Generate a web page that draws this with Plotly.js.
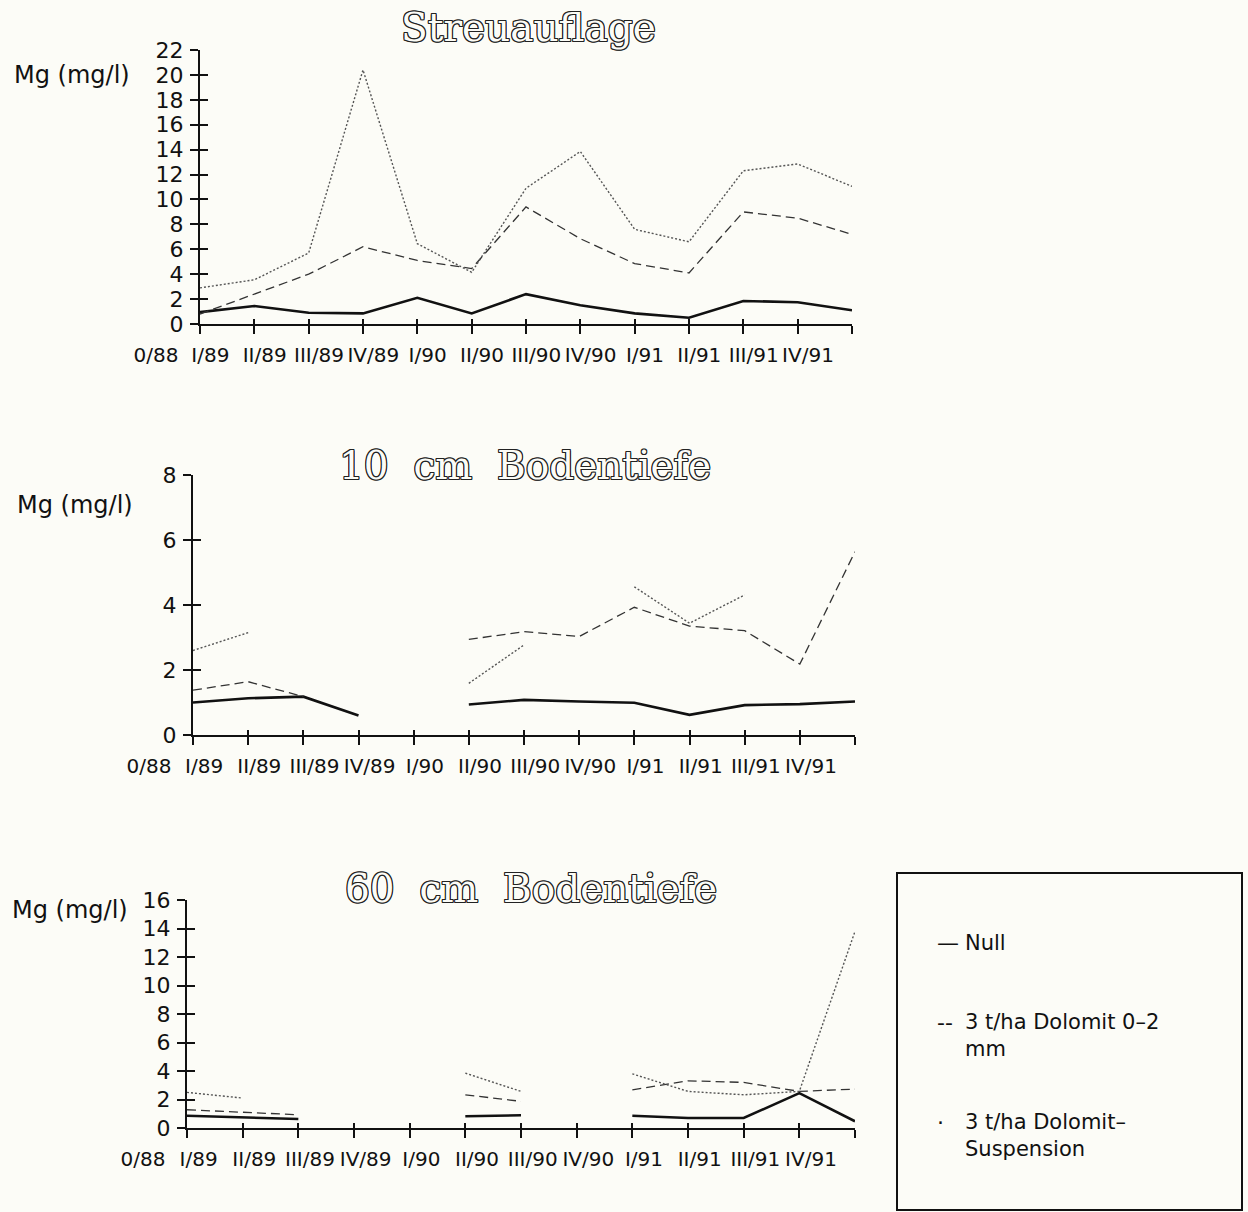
<!DOCTYPE html>
<html>
<head>
<meta charset="utf-8">
<script src="https://cdn.plot.ly/plotly-3.0.1.min.js"></script>
<style>html,body{margin:0;padding:0;background:#fcfcf7;}#chart{width:1248px;height:1212px;}</style>
</head>
<body>
<div id="chart"></div>
<script>
// Quarter categories (x) and tick labels
const periods = ['0/88','I/89','II/89','III/89','IV/89','I/90','II/90','III/90','IV/90','I/91','II/91','III/91','IV/91'];
const tickLabels = ['0/88','I/89','II/89','III/89','IV/89','I/90','II/90','III/90','IV/90','I/91','II/91','III/91','IV/91'];

// Panel 1: Streuauflage, Mg (mg/l)
const streuNull = [0.95, 1.45, 0.9, 0.85, 2.1, 0.85, 2.4, 1.5, 0.85, 0.5, 1.85, 1.75, 1.1];
const streuDol  = [0.8, 2.4, 4.0, 6.2, 5.1, 4.45, 9.4, 6.85, 4.85, 4.1, 9.0, 8.5, 7.2];
const streuSusp = [2.9, 3.55, 5.7, 20.4, 6.45, 4.15, 10.9, 13.85, 7.6, 6.6, 12.3, 12.85, 11.05];

// Panel 2: 10 cm Bodentiefe
const b10Null = [1.0, 1.13, 1.18, 0.6, null, 0.94, 1.08, 1.03, 0.99, 0.62, 0.92, 0.95, 1.03];
const b10Dol  = [1.38, 1.64, 1.18, null, null, 2.94, 3.18, 3.03, 3.93, 3.35, 3.21, 2.18, 5.64];
const b10Susp = [2.6, 3.15, null, null, null, 1.59, 2.77, null, 4.56, 3.44, 4.31, null, null];

// Panel 3: 60 cm Bodentiefe
const b60Null = [0.86, 0.75, 0.63, null, null, 0.82, 0.89, null, 0.86, 0.7, 0.7, 2.45, 0.47];
const b60Dol  = [1.28, 1.1, 0.93, null, null, 2.33, 1.87, null, 2.68, 3.31, 3.2, 2.57, 2.73];
const b60Susp = [2.5, 2.1, null, null, null, 3.85, 2.57, null, 3.8, 2.57, 2.33, 2.57, 13.8];

const seriesNames = ['Null', '3 t/ha Dolomit 0–2 mm', '3 t/ha Dolomit–Suspension'];
const panelTitles = ['Streuauflage', '10\u00a0\u00a0cm\u00a0\u00a0Bodentiefe', '60\u00a0\u00a0cm\u00a0\u00a0Bodentiefe'];
const yMax = [22, 8, 16];

const W = 1248, H = 1212;
const idx = periods.map((p, i) => i);
const styles = [
  {color: '#111', width: 2.6, dash: 'solid'},
  {color: '#333', width: 1.3, dash: '9px,5px'},
  {color: '#555', width: 1.4, dash: '2px,2px'}
];
const panels = [
  [streuNull, streuDol, streuSusp],
  [b10Null, b10Dol, b10Susp],
  [b60Null, b60Dol, b60Susp]
];
// pixel geometry of the panels
const geo = [
  {x0: 200, x1: 852, yTop: 50,  yBot: 324},
  {x0: 193, x1: 855, yTop: 475, yBot: 735},
  {x0: 187, x1: 855, yTop: 900, yBot: 1128}
];

const traces = [];
panels.forEach((ser, p) => {
  const ax = p === 0 ? '' : String(p + 1);
  const ov = String(p + 4);
  ser.forEach((vals, s) => {
    traces.push({
      x: idx, y: vals, type: 'scatter', mode: 'lines', name: seriesNames[s],
      xaxis: 'x' + ax, yaxis: 'y' + ax, connectgaps: false, showlegend: false,
      line: {color: styles[s].color, width: styles[s].width, dash: styles[s].dash},
      hoverinfo: 'skip'
    });
  });
  // invisible copy so the overlay (crossing-tick) axes are drawn
  traces.push({
    x: idx, y: ser[0], type: 'scatter', mode: 'lines', xaxis: 'x' + ov, yaxis: 'y' + ov,
    opacity: 0, line: {width: 0}, showlegend: false, hoverinfo: 'skip'
  });
});

const sans = 'DejaVu Sans, sans-serif';
const layout = {
  width: W, height: H, margin: {l: 0, r: 0, t: 0, b: 0},
  paper_bgcolor: '#fcfcf7', plot_bgcolor: 'rgba(0,0,0,0)',
  showlegend: false, annotations: [], shapes: []
};

geo.forEach((g, p) => {
  const ax = p === 0 ? '' : String(p + 1);
  const ov = String(p + 4);
  const xd = [g.x0 / W, g.x1 / W];
  const yd = [1 - g.yBot / H, 1 - g.yTop / H];
  layout['xaxis' + ax] = {
    domain: xd, range: [0, 12], anchor: 'y' + ax, tickmode: 'array', tickvals: idx, ticktext: tickLabels,
    showline: true, linecolor: '#111', linewidth: 2, ticks: 'outside', ticklen: 8, tickwidth: 2, tickcolor: '#111',
    showgrid: false, zeroline: false, tickangle: 0, ticklabelshift: -44, ticklabelstandoff: 4,
    tickfont: {family: sans, size: 20, color: '#111'}
  };
  layout['yaxis' + ax] = {
    domain: yd, range: [0, yMax[p]], anchor: 'x' + ax, tickmode: 'linear', tick0: 0, dtick: 2,
    showline: true, linecolor: '#111', linewidth: 2, ticks: 'outside', ticklen: 8, tickwidth: 2, tickcolor: '#111',
    showgrid: false, zeroline: false, ticklabelstandoff: 2,
    tickfont: {family: sans, size: 22, color: '#111'}
  };
  layout['xaxis' + ov] = {
    domain: xd, range: [0, 12], anchor: 'y' + ov, overlaying: 'x' + ax, tickmode: 'array', tickvals: idx,
    showline: false, ticks: 'inside', ticklen: 5, tickwidth: 2, tickcolor: '#111', showticklabels: false,
    showgrid: false, zeroline: false
  };
  layout['yaxis' + ov] = {
    domain: yd, range: [0, yMax[p]], anchor: 'x' + ov, overlaying: 'y' + ax, tickmode: 'linear', tick0: 0, dtick: 2,
    showline: false, ticks: 'inside', ticklen: 8, tickwidth: 2, tickcolor: '#111', showticklabels: false,
    showgrid: false, zeroline: false
  };
});

// Panel titles (outlined serif) and y labels
const titlePos = [{x: 528, y: 27}, {x: 525, y: 465}, {x: 531, y: 888}];
const outline = '1px 0 0 #222, -1px 0 0 #222, 0 1px 0 #222, 0 -1px 0 #222, 1px 1px 0 #222, -1px -1px 0 #222, 1px -1px 0 #222, -1px 1px 0 #222';
titlePos.forEach((t, p) => {
  layout.annotations.push({
    xref: 'paper', yref: 'paper', x: t.x / W, y: 1 - t.y / H, xanchor: 'center', yanchor: 'middle',
    text: panelTitles[p], showarrow: false,
    font: {family: 'DejaVu Serif, serif', size: 39, color: '#fcfcf7', shadow: outline}
  });
});
const ylabPos = [{x: 12, y: 75}, {x: 15, y: 505}, {x: 10, y: 910}];
ylabPos.forEach(t => {
  layout.annotations.push({
    xref: 'paper', yref: 'paper', x: t.x / W, y: 1 - t.y / H, xanchor: 'left', yanchor: 'middle',
    text: 'Mg (mg/l)', showarrow: false, font: {family: sans, size: 24, color: '#111'}
  });
});

// Legend box
layout.shapes.push({type: 'rect', xref: 'paper', yref: 'paper', x0: 897 / W, x1: 1242 / W, y0: 1 - 1210 / H, y1: 1 - 873 / H,
  line: {color: '#111', width: 2}, fillcolor: 'rgba(0,0,0,0)'});
const legendSymbols = ['—', '--', '·'];
const legendTexts = ['Null', '3 t/ha Dolomit 0–2<br>mm', '3 t/ha Dolomit–<br>Suspension'];
const legendY = [943, 1022, 1122];
legendTexts.forEach((txt, i) => {
  layout.annotations.push({
    xref: 'paper', yref: 'paper', x: 935 / W, y: 1 - legendY[i] / H, xanchor: 'left', yanchor: 'middle',
    text: legendSymbols[i], showarrow: false, font: {family: sans, size: 22, color: '#111'}
  });
  layout.annotations.push({
    xref: 'paper', yref: 'paper', x: 963 / W, y: 1 - (legendY[i] - 14) / H, xanchor: 'left', yanchor: 'top', align: 'left',
    text: txt, showarrow: false, font: {family: sans, size: 21, color: '#111'}
  });
});

Plotly.newPlot('chart', traces, layout, {staticPlot: true, displayModeBar: false});
</script>
</body>
</html>
